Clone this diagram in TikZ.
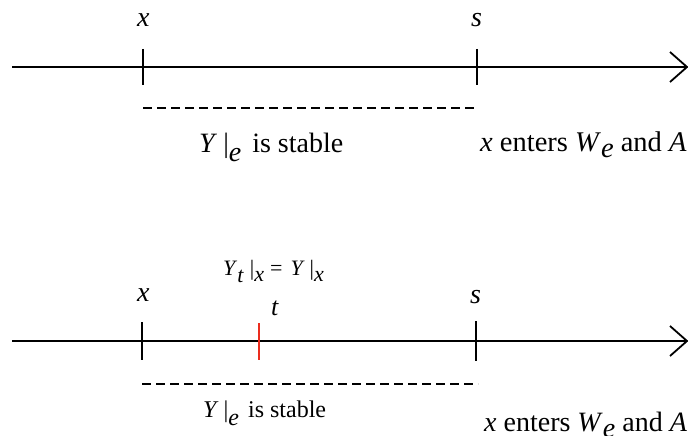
\documentclass[tikz,border=0pt]{standalone}
\usepackage{fontspec}
\setmainfont{Liberation Serif}
\definecolor{tickred}{RGB}{235,45,30}
\tikzset{
  axisline/.style={line width=1.8pt},
  tickline/.style={line width=2pt},
  headline/.style={line width=1.8pt, line join=miter},
  redtick/.style={line width=2pt, draw=tickred},
  dashline/.style={line width=1.8pt, dash pattern=on 9pt off 5pt},
  labtxt/.style={inner sep=0pt, anchor=base west, font=\fontsize{28}{30}\selectfont},
  enttxt/.style={inner sep=0pt, anchor=base west, font=\fontsize{28.5}{30}\selectfont},
  stabtxt/.style={inner sep=0pt, anchor=base west, font=\fontsize{28}{30}\selectfont},
  eqtxt/.style={inner sep=0pt, anchor=base west, font=\fontsize{22}{24}\selectfont},
}
\newcommand{\lowit}[2]{\raisebox{#1}{\textit{#2}}}
\begin{document}
\begin{tikzpicture}[x=1pt,y=-1pt]
\useasboundingbox (0,0) rectangle (688,436);
% ---------- top ----------
\coordinate (a1) at (12,67);
\coordinate (a2) at (687,67);
\draw[axisline] (a1) -- (a2);
\coordinate (h1) at (670,52);
\coordinate (h2) at (670,82);
\draw[headline] (h1) -- (a2) -- (h2);
\coordinate (tx1) at (143,49); \coordinate (tx2) at (143,85);
\coordinate (ts1) at (477,49); \coordinate (ts2) at (477,85);
\draw[tickline] (tx1) -- (tx2);
\draw[tickline] (ts1) -- (ts2);
\coordinate (d1) at (143,108); \coordinate (d2) at (478,108);
\draw[dashline] (d1) -- (d2);
\node[labtxt] (lx) at (137,27) {\textit{x}};
\node[labtxt] (ls) at (471,27) {\textit{s}};
\node[stabtxt] (stab1) at (199,152) {\textit{Y}\hspace{6pt}|\lowit{-9pt}{e}\hspace{4pt} is stable};
\node[enttxt] (ent1) at (480,151) {\textit{x} enters \textit{W}\lowit{-6pt}{e} and \textit{A}};
% ---------- bottom ----------
\coordinate (b1) at (12,341);
\coordinate (b2) at (687,341);
\draw[axisline] (b1) -- (b2);
\coordinate (g1) at (670,326);
\coordinate (g2) at (670,356);
\draw[headline] (g1) -- (b2) -- (g2);
\coordinate (ux1) at (142,322); \coordinate (ux2) at (142,360);
\coordinate (us1) at (476,321); \coordinate (us2) at (476,361);
\draw[tickline] (ux1) -- (ux2);
\draw[tickline] (us1) -- (us2);
\coordinate (ut1) at (259,323); \coordinate (ut2) at (259,360);
\draw[redtick] (ut1) -- (ut2);
\coordinate (e1) at (142,384); \coordinate (e2) at (478,384);
\draw[dashline] (e1) -- (e2);
\node[labtxt] (lx2) at (137,301) {\textit{x}};
\node[labtxt] (ls2) at (470,303) {\textit{s}};
\node[labtxt, font=\fontsize{26}{28}\selectfont] (lt) at (271,315) {\textit{t}};
\node[eqtxt] (eq) at (223,275) {\textit{Y}\lowit{-7pt}{t}\hspace{6pt}|\lowit{-6pt}{x}\hspace{6pt}=\hspace{8pt}\textit{Y}\hspace{5pt}|\lowit{-6pt}{x}};
\node[stabtxt, font=\fontsize{24}{26}\selectfont] (stab2) at (203,417) {\textit{Y}\hspace{5pt}|\lowit{-8pt}{e}\hspace{3pt} is stable};
\node[labtxt] (ent2) at (484,431) {\textit{x} enters \textit{W}\lowit{-6pt}{e} and \textit{A}};
\end{tikzpicture}
\end{document}
